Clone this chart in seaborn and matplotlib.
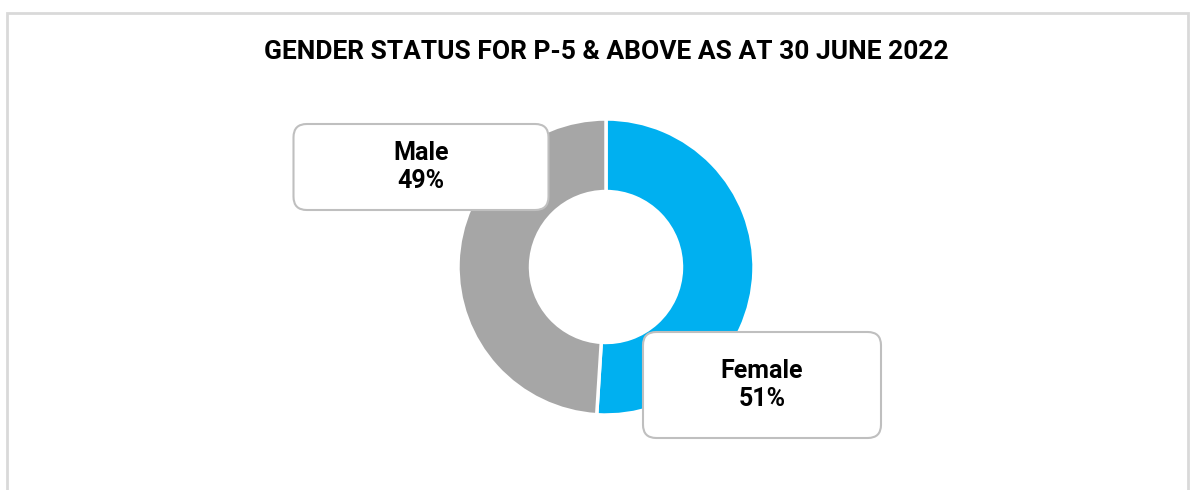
import matplotlib
matplotlib.use("Agg")
import matplotlib.pyplot as plt
from matplotlib.patches import FancyBboxPatch, Rectangle
import seaborn as sns

# data
labels = ["Female", "Male"]
shares = [51, 49]
colors = ["#00B0F0", "#A6A6A6"]
title = "GENDER STATUS FOR P-5 & ABOVE AS AT 30 JUNE 2022"

sns.set_theme(style="white")
plt.rcParams["font.family"] = ["Roboto", "DejaVu Sans"]
plt.rcParams["text.color"] = "black"

W, H = 1195, 490
fig = plt.figure(figsize=(W / 100, H / 100), dpi=100)
fig.patch.set_facecolor("white")

# light grey chart frame (open at bottom)
fig.add_artist(Rectangle((7 / W, -0.1), 1181 / W, 1 - 13 / H + 0.1,
                         transform=fig.transFigure, fill=False,
                         edgecolor="#d9d9d9", linewidth=2))

# axes covers whole figure, one unit = 148 px, donut centre at (606, 267)
cx, cy, s = 606, H - 267, 148
ax = fig.add_axes([0, 0, 1, 1])

ax.pie(shares, colors=colors, startangle=90, counterclock=False, radius=1,
       wedgeprops=dict(width=0.49, edgecolor="white", linewidth=2.5))
ax.set_aspect("auto")
ax.set_xlim(-cx / s, (W - cx) / s)
ax.set_ylim(-cy / s, (H - cy) / s)
ax.axis("off")

fig.text(cx / W, 1 - 52 / H, title, ha="center", va="center",
         fontsize=19, fontweight="bold", color="black")

# label boxes (centre x, centre y, width, height in px)
boxes = {"Female": (762, 385, 238, 106), "Male": (421, 167, 255, 86)}
for lab, val in zip(labels, shares):
    bx, by, bw, bh = boxes[lab]
    x0 = (bx - bw / 2 - cx) / s
    y0 = (H - by - bh / 2 - cy) / s
    ax.add_patch(FancyBboxPatch((x0, y0), bw / s, bh / s,
                                boxstyle="round,pad=0,rounding_size=0.09",
                                facecolor="white", edgecolor="#bfbfbf",
                                linewidth=1.5, zorder=5, clip_on=False))
    ax.text((bx - cx) / s, (H - by - cy) / s, f"{lab}\n{val}%",
            ha="center", va="center", fontsize=18, fontweight="bold",
            color="black", linespacing=1.2, zorder=6)

fig.savefig("out.png", dpi=100, facecolor="white")
